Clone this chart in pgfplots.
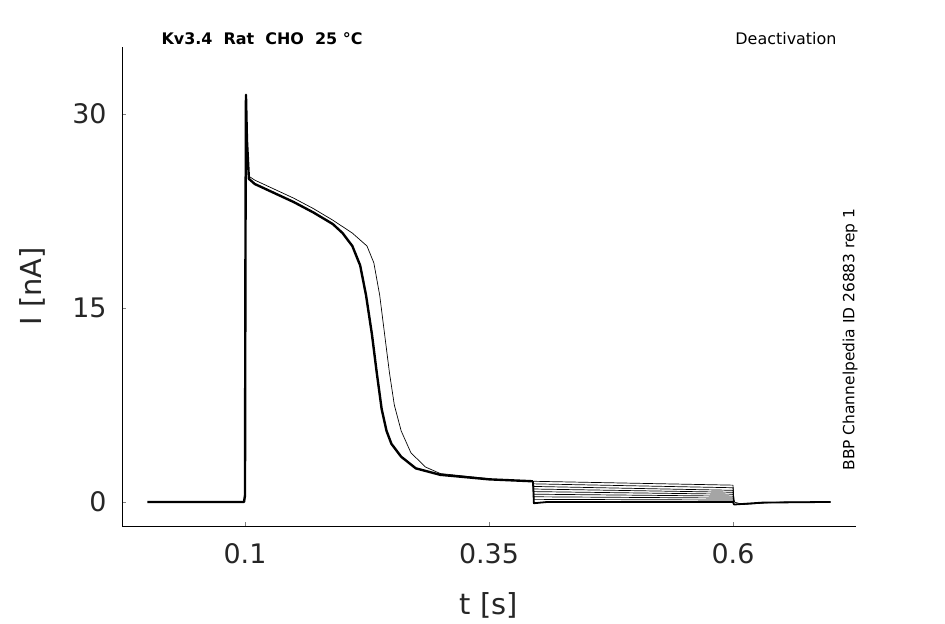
\documentclass[border=0pt]{standalone}
\usepackage{pgfplots}
\pgfplotsset{compat=1.18}
\usepackage{fontspec}
\setmainfont{DejaVu Sans}
\begin{document}
\begin{tikzpicture}[x=1bp,y=1bp]
\path[use as bounding box] (0,0) rectangle (945,624);
\begin{axis}[at={(122bp,98bp)},anchor=south west,width=734bp,height=479bp,scale only axis,
 xmin=-0.026,xmax=0.726,ymin=-1.86,ymax=35.2,
 axis x line*=bottom, axis y line*=left, axis line style={-},
 cycle list={{black,mark=none,solid}},
 xtick={0.1,0.35,0.6}, xticklabels={0.1,0.35,0.6}, ytick={0,15,30},
 tick align=inside, major tick length=4bp,
 /pgf/number format/assume math mode=true,
 ticklabel style={font=\fontsize{27}{29}\selectfont,text=black!85},
 xticklabel style={yshift=-14bp}, yticklabel style={xshift=-12bp},
 xlabel={t [s]}, ylabel={I [nA]},
 label style={font=\fontsize{29}{31}\selectfont,text=black!85},
 xlabel style={yshift=-22bp}, ylabel style={yshift=20bp},
 every axis plot/.append style={black,line width=0.7pt,line join=round}]
\addplot+[line width=2.4pt] coordinates {(0,0)(0.099,0)(0.1,0.5)(0.1005,20)(0.101,31.5)(0.102,28)(0.104,25)(0.11,24.6)(0.13,23.9)(0.15,23.2)(0.17,22.4)(0.19,21.5)(0.2,20.8)(0.21,19.8)(0.218,18.3)(0.224,16)(0.23,13)(0.235,10)(0.24,7.2)(0.245,5.5)(0.25,4.5)(0.26,3.5)(0.275,2.6)(0.3,2.1)(0.35,1.75)(0.395,1.6)};
\addplot+ coordinates {(0.104,25.2)(0.11,24.9)(0.13,24.2)(0.15,23.5)(0.17,22.7)(0.19,21.8)(0.21,20.8)(0.225,19.8)(0.232,18.5)(0.238,16)(0.243,13)(0.248,10)(0.253,7.5)(0.26,5.5)(0.27,3.8)(0.285,2.7)(0.3,2.2)(0.35,1.8)};
\addplot+ coordinates {(0.395,1.6)(0.6,1.3)(0.601,0)(0.61,-0.2)(0.65,0)(0.7,0)};
\addplot+ coordinates {(0.395,1.6)(0.396,1.4)(0.6,1.1)(0.601,0)};
\addplot+ coordinates {(0.395,1.6)(0.396,1.2)(0.6,0.9)(0.601,0)};
\addplot+ coordinates {(0.395,1.6)(0.396,1.0)(0.6,0.75)(0.601,0)};
\addplot+ coordinates {(0.395,1.6)(0.396,0.8)(0.6,0.6)(0.601,0)};
\addplot+ coordinates {(0.395,1.6)(0.396,0.6)(0.6,0.45)(0.601,0)};
\addplot+ coordinates {(0.395,1.6)(0.396,0.4)(0.6,0.3)(0.601,0)};
\addplot+ coordinates {(0.395,1.6)(0.396,0.2)(0.6,0.15)(0.601,0)};
\addplot+[line width=1.8pt] coordinates {(0.395,1.6)(0.396,-0.1)(0.41,0)(0.6,0)(0.601,-0.2)(0.63,-0.05)(0.7,0)};
\end{axis}
\node[anchor=west,font=\bfseries\fontsize{16}{18}\selectfont] at (158,585) {Kv3.4\ \ Rat\ \ CHO\ \ 25 °C};
\node[anchor=east,font=\fontsize{16}{18}\selectfont] at (840,585) {Deactivation};
\node[rotate=90,anchor=west,font=\fontsize{15.5}{17}\selectfont] at (850,150) {BBP Channelpedia ID 26883 rep 1};
\end{tikzpicture}
\end{document}
